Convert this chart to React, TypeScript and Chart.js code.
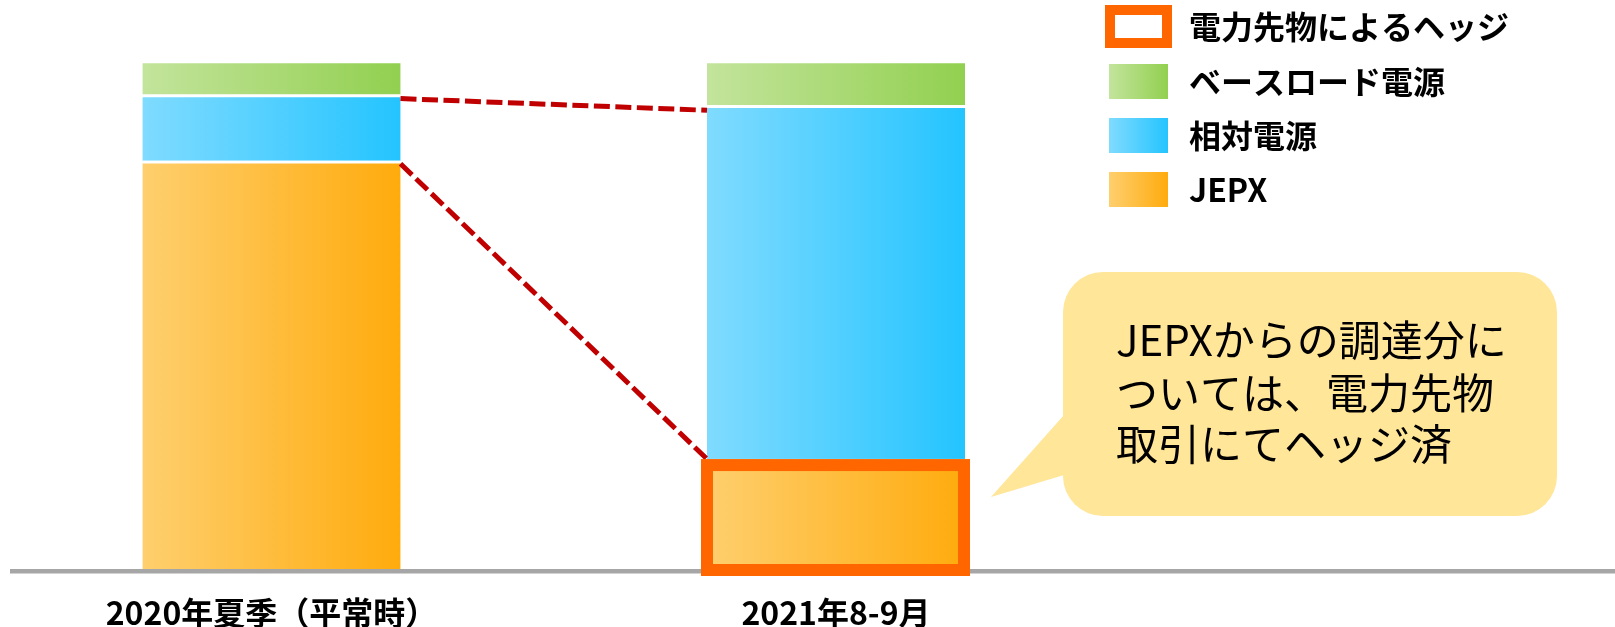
import React, { useEffect, useRef } from 'react';
import { Chart, registerables } from 'chart.js';

Chart.register(...registerables);

// ---- data ----
const categories = ['2020年夏季（平常時）', '2021年8-9月'];
const jepxValues = [80.2, 21.6];
const relativeValues = [13.0, 69.5];
const baseloadValues = [6.7, 8.8];
const seriesNames = ['JEPX', '相対電源', 'ベースロード電源'];
const hedgeLabel = '電力先物によるヘッジ';
const calloutLines = ['JEPXからの調達分に', 'ついては、電力先物', '取引にてヘッジ済'];
const hedgedIndex = 1;

// ---- styles ----
const FONT = '"Noto Sans CJK JP", "Noto Sans", sans-serif';
const GREEN = ['#c3e49c', '#92d050'];
const BLUE = ['#80dbff', '#24c4ff'];
const ORANGE = ['#fecf6e', '#ffab0d'];
const HEDGE = '#ff6600';
const BAR = 258;

function barGradient(stops: string[]) {
  return (c: any) => {
    const chart = c.chart;
    if (!chart.chartArea || c.dataIndex === undefined || !chart.scales.x) return stops[1];
    const cx = chart.scales.x.getPixelForValue(c.dataIndex);
    const g = chart.ctx.createLinearGradient(cx - BAR / 2, 0, cx + BAR / 2, 0);
    g.addColorStop(0, stops[0]);
    g.addColorStop(1, stops[1]);
    return g;
  };
}

function fillGrad(ctx: CanvasRenderingContext2D, stops: string[], x: number, y: number, w: number, h: number) {
  const g = ctx.createLinearGradient(x, 0, x + w, 0);
  g.addColorStop(0, stops[0]);
  g.addColorStop(1, stops[1]);
  ctx.fillStyle = g;
  ctx.fillRect(x, y, w, h);
}

const overlay = {
  id: 'overlay',
  afterDatasetsDraw(chart: any) {
    const { ctx } = chart;
    const y = chart.scales.y;
    const jm = chart.getDatasetMeta(0).data;
    ctx.save();

    // baseline axis line
    const base = y.getPixelForValue(0);
    ctx.fillStyle = '#a6a6a6';
    ctx.fillRect(10, base, chart.width - 10, 4.5);

    // dashed connectors
    const a = jm[0];
    const b = jm[1];
    const x1 = a.x + a.width / 2;
    const x2 = b.x - b.width / 2;
    ctx.strokeStyle = '#c00000';
    ctx.lineWidth = 5;
    ctx.setLineDash([16, 5.5]);
    ctx.beginPath();
    ctx.moveTo(x1, y.getPixelForValue(jepxValues[0] + relativeValues[0]) + 4);
    ctx.lineTo(x2, y.getPixelForValue(jepxValues[1] + relativeValues[1]) + 5);
    ctx.stroke();
    ctx.beginPath();
    ctx.moveTo(x1, y.getPixelForValue(jepxValues[0]) + 3);
    ctx.lineTo(x2, y.getPixelForValue(jepxValues[1]));
    ctx.stroke();
    ctx.setLineDash([]);

    // hedge frame
    const h = jm[hedgedIndex];
    const hl = h.x - h.width / 2;
    const hr = h.x + h.width / 2;
    ctx.strokeStyle = HEDGE;
    ctx.lineWidth = 12;
    ctx.strokeRect(hl, h.y + 6, hr - hl - 1, h.base + 1 - (h.y + 6));

    // legend
    ctx.lineWidth = 10;
    ctx.strokeStyle = HEDGE;
    ctx.strokeRect(1110, 10, 57, 33);
    fillGrad(ctx, GREEN, 1109, 64, 59, 35);
    fillGrad(ctx, BLUE, 1109, 118, 59, 35);
    fillGrad(ctx, ORANGE, 1109, 172, 59, 35);
    ctx.fillStyle = '#000';
    ctx.font = `bold 32px ${FONT}`;
    ctx.textBaseline = 'middle';
    ctx.textAlign = 'left';
    const legendTexts = [hedgeLabel, seriesNames[2], seriesNames[1], seriesNames[0]];
    const legendY = [27, 81.5, 135.5, 189.5];
    legendTexts.forEach((t, i) => ctx.fillText(t, 1189, legendY[i]));

    // callout bubble
    const L = 1063, T = 272, R = 1557, B = 516, r = 40;
    ctx.fillStyle = '#ffe699';
    ctx.beginPath();
    ctx.moveTo(L + r, T);
    ctx.lineTo(R - r, T);
    ctx.arcTo(R, T, R, T + r, r);
    ctx.lineTo(R, B - r);
    ctx.arcTo(R, B, R - r, B, r);
    ctx.lineTo(L + r, B);
    ctx.arcTo(L, B, L, B - r, r);
    ctx.lineTo(L, T + r);
    ctx.arcTo(L, T, L + r, T, r);
    ctx.closePath();
    ctx.fill();
    ctx.beginPath();
    ctx.moveTo(L + 1, 415);
    ctx.lineTo(991, 497);
    ctx.lineTo(L + 1, 475);
    ctx.closePath();
    ctx.fill();
    ctx.fillStyle = '#000';
    ctx.font = `400 42px ${FONT}`;
    const cy = [340, 393, 444];
    calloutLines.forEach((t, i) => ctx.fillText(t, 1116, cy[i]));

    ctx.restore();
  },
};

export default function App() {
  const ref = useRef<HTMLCanvasElement | null>(null);

  useEffect(() => {
    if (!ref.current) return;
    const common = {
      borderColor: '#ffffff',
      borderWidth: { top: 3, right: 0, bottom: 0, left: 0 },
      borderSkipped: 'start',
      barThickness: BAR,
      clip: false,
    };
    const chart = new Chart(ref.current, {
      type: 'bar',
      data: {
        labels: categories,
        datasets: [
          { label: seriesNames[0], data: jepxValues, backgroundColor: barGradient(ORANGE), ...common } as any,
          { label: seriesNames[1], data: relativeValues, backgroundColor: barGradient(BLUE), ...common } as any,
          { label: seriesNames[2], data: baseloadValues, backgroundColor: barGradient(GREEN), ...common } as any,
        ],
      },
      options: {
        responsive: false,
        animation: false,
        devicePixelRatio: 1,
        layout: { padding: { left: 271.5, right: 1615 - 836, top: 60, bottom: 0 } },
        plugins: { legend: { display: false }, tooltip: { enabled: false } },
        scales: {
          x: {
            stacked: true,
            offset: false,
            grid: { display: false, drawTicks: false },
            border: { display: false },
            ticks: {
              color: '#000',
              padding: 25,
              maxRotation: 0,
              autoSkip: false,
              font: { family: FONT, size: 32, weight: 'bold' },
            },
            afterFit: (s: any) => {
              s.height = 58;
            },
          },
          y: {
            stacked: true,
            display: false,
            min: 0,
            max: 100,
          },
        },
      },
      plugins: [overlay],
    } as any);
    return () => chart.destroy();
  }, []);

  return (
    <div style={{ position: 'absolute', left: 0, top: 0, width: 1615, height: 627, background: '#fff' }}>
      <canvas ref={ref} width={1615} height={627} />
    </div>
  );
}
